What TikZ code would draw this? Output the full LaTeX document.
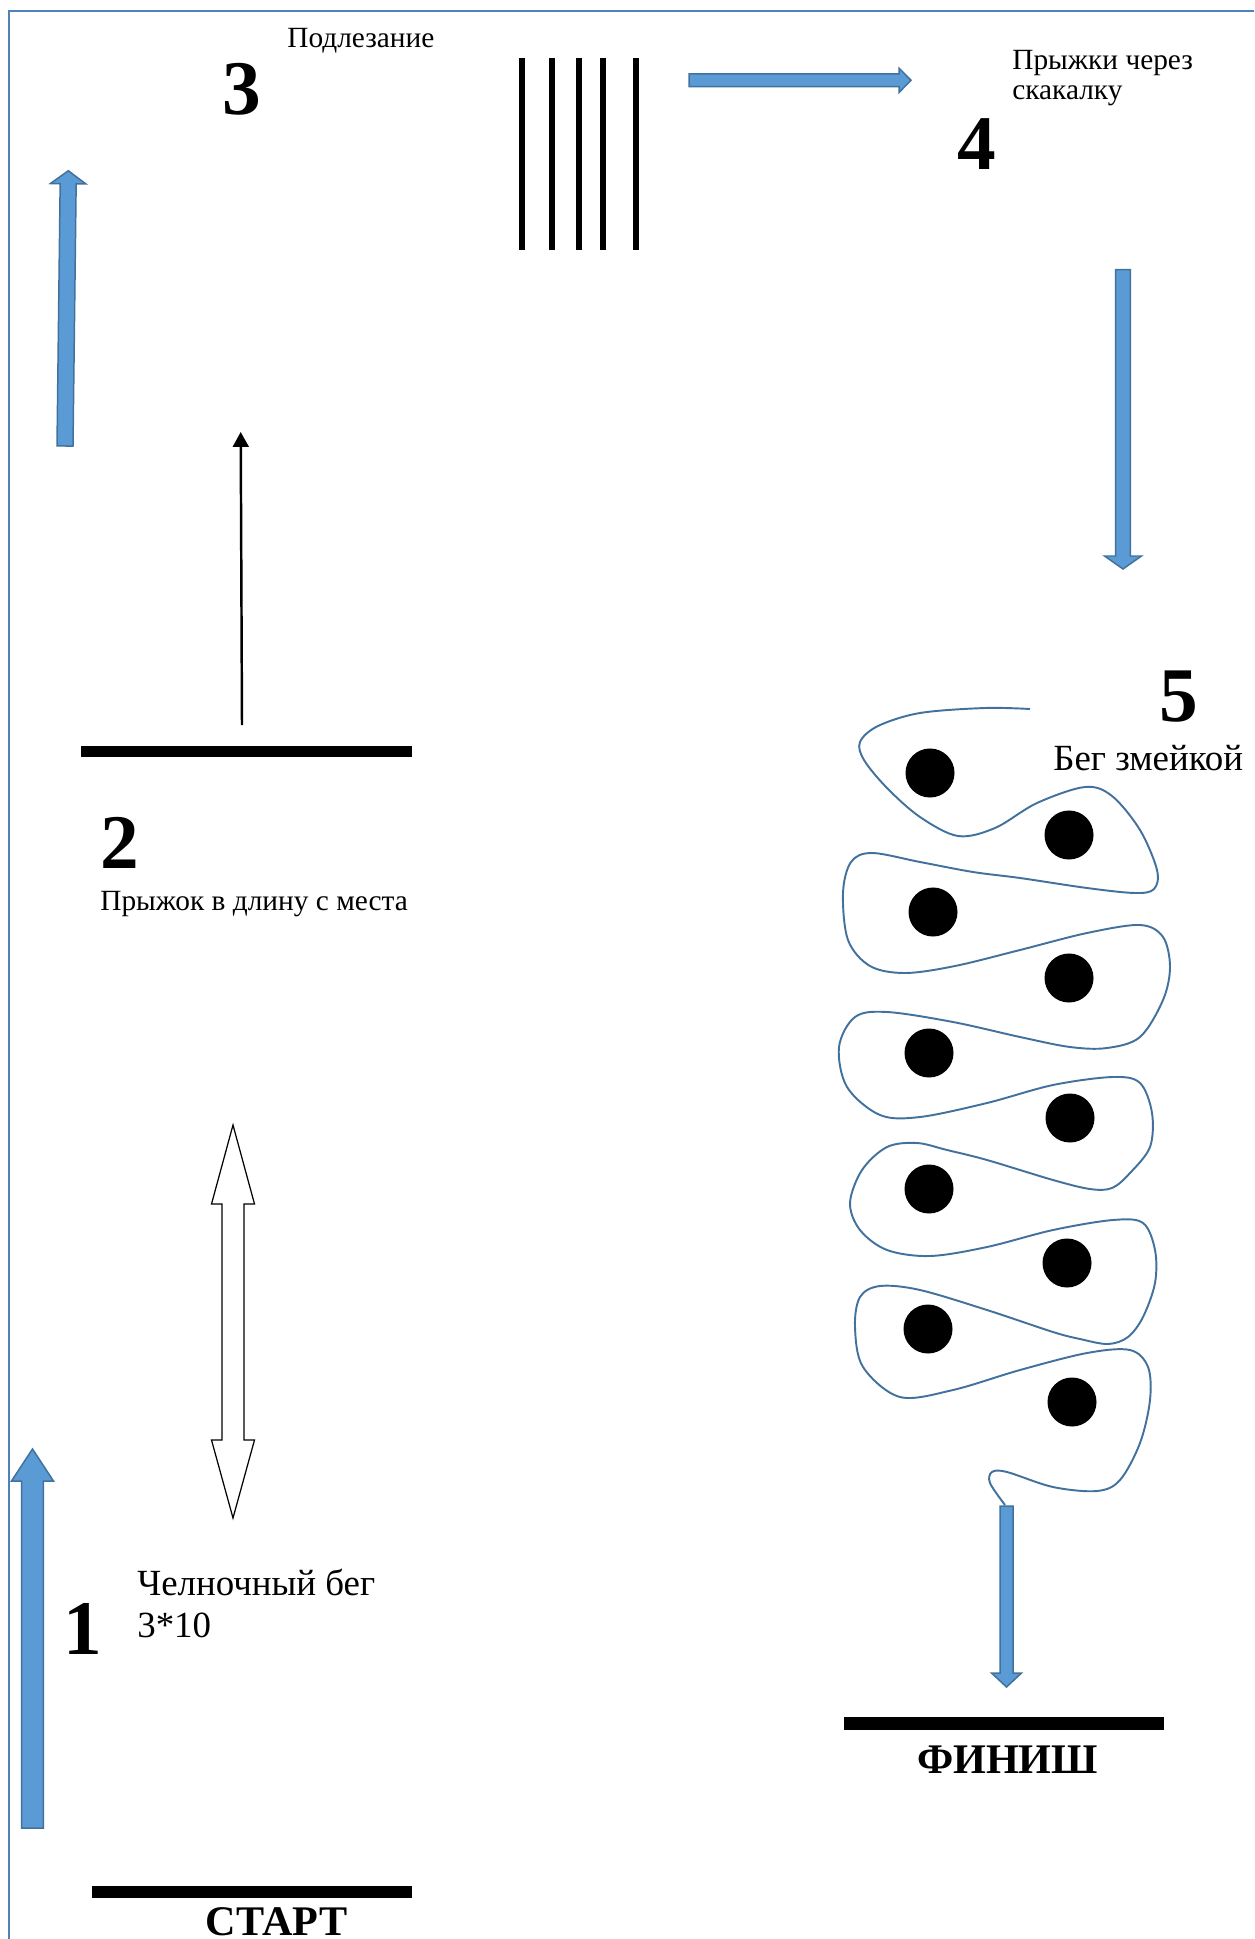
\documentclass[tikz,border=0pt]{standalone}
\usepackage{fontspec}
\setmainfont{Liberation Serif}
\usetikzlibrary{arrows.meta}

\definecolor{arrowfill}{RGB}{91,155,213}
\definecolor{arrowedge}{RGB}{65,113,156}
\definecolor{snakeblue}{RGB}{65,113,156}
\definecolor{framecol}{RGB}{79,129,189}

\tikzset{
  bluearr/.style={draw=arrowedge, fill=arrowfill, line width=0.85pt},
  pics/blockarrow/.style n args={4}{code={
    \draw[bluearr] (0,-#2) -- ({#1-#4},-#2) -- ({#1-#4},-#3) -- (#1,0)
      -- ({#1-#4},#3) -- ({#1-#4},#2) -- (0,#2) -- cycle;}},
  stationnum/.style={font=\fontsize{44}{50}\selectfont\bfseries, anchor=base west, inner sep=0pt},
  smalllabel/.style={font=\fontsize{16.7}{20}\selectfont, anchor=base west, inner sep=0pt},
  biglabel/.style={font=\fontsize{21}{25}\selectfont, anchor=base west, inner sep=0pt},
  markword/.style={font=\fontsize{24}{28}\selectfont\bfseries, anchor=base, inner sep=0pt},
  barline/.style={line width=6.8pt},
  poleline/.style={line width=3.4pt},
  snakeline/.style={draw=snakeblue, line width=1.1pt},
  cone/.style={circle, fill=black, minimum size=27.9pt, inner sep=0pt}
}

\begin{document}
\begin{tikzpicture}[x=0.02cm, y=-0.02cm]
\useasboundingbox (0,0) rectangle (1254,1939);
\clip (0,0) rectangle (1254,1939);

% frame
\draw[framecol, line width=1.5pt] (9,1950) -- (9,11) -- (1260,11);

% station 1
\pic[rotate=90] (runup) at (32.5,1828) {blockarrow={379}{10.8}{21}{32}};
\node[stationnum] (n1) at (63,1654) {1};
\node[biglabel] (shuttle) at (137,1595) {Челночный бег};
\node[biglabel] (shuttle2) at (137,1637) {3*10};
\draw[line width=0.7pt, fill=white] (233,1125) -- (254.5,1204) -- (244,1204) -- (244,1440)
  -- (254.5,1440) -- (233,1518) -- (211.5,1440) -- (222,1440) -- (222,1204) -- (211.5,1204) -- cycle;
\coordinate (s0) at (92,1892);
\coordinate (s1) at (412,1892);
\draw[barline] (s0) -- (s1);
\node[markword] (start) at (276.5,1935) {СТАРТ};

% station 2
\coordinate (b0) at (81,751.5);
\coordinate (b1) at (412,751.5);
\draw[barline, line width=6.3pt] (b0) -- (b1);
\coordinate (j0) at (242,725);
\coordinate (j1) at (240.7,432);
\draw[line width=1.4pt, -{Triangle[length=8.5pt,width=9pt]}] (j0) -- (j1);
\node[stationnum] (n2) at (100,868) {2};
\node[smalllabel] (jump) at (100,910) {Прыжок в длину с места};

% station 3
\pic[rotate=89.31] (climb) at (65,446) {blockarrow={275.3}{8}{17.7}{13}};
\node[stationnum] (n3) at (222,115) {3};
\node[smalllabel] (crawl) at (287,48) {Подлезание};
\foreach \px in {521.7,552.3,579.3,603.3,635.7}
  \draw[poleline] (\px,58) -- (\px,250);
\pic (torope) at (689,80.3) {blockarrow={222}{6.3}{12.2}{12}};

% station 4
\node[stationnum] (n4) at (957,170) {4};
\node[smalllabel] (rope) at (1012,70) {Прыжки через};
\node[smalllabel] (rope2) at (1012,100) {скакалку};
\pic[rotate=-90] (tosnake) at (1123,269.6) {blockarrow={299.4}{7.3}{18.5}{13}};

% station 5
\node[stationnum] (n5) at (1159,721) {5};
\node[biglabel] (snake) at (1053,770) {Бег змейкой};
\foreach \cx/\cy [count=\i] in {930/773,1069/835,933/912,1069/978,929/1053,
    1070/1118,929/1189,1067/1263,928/1329,1072/1402}
  \node[cone] (c\i) at (\cx,\cy) {};
\draw[snakeline] plot[smooth, tension=0.55] coordinates {
  (1030,709) (985,708) (920,713) (878,726) (860,742) (864,760) (887,788) (920,817)
  (958,836) (995,828) (1037,803) (1085,787) (1112,796) (1140,830) (1157,870) (1154,889)
  (1135,893) (1087,888) (1020,878) (973,872) (920,862) (872,853) (851,862) (843,893)
  (848,940) (870,966) (905,973) (955,966) (1020,950) (1087,933) (1140,925) (1163,937)
  (1170,967) (1163,1000) (1140,1037) (1107,1048) (1070,1047) (1020,1037) (953,1022)
  (887,1012) (855,1017) (839,1047) (847,1087) (880,1115) (920,1117) (987,1103)
  (1053,1085) (1113,1077) (1140,1083) (1152,1113) (1150,1147) (1130,1173) (1112,1188)
  (1090,1189) (1053,1180) (987,1160) (947,1150) (917,1143) (887,1147) (862,1170)
  (850,1203) (860,1230) (887,1250) (930,1256) (987,1247) (1053,1230) (1113,1220)
  (1143,1223) (1155,1250) (1155,1283) (1143,1317) (1128,1337) (1108,1344) (1080,1339)
  (1053,1332) (987,1310) (920,1290) (880,1286) (860,1297) (855,1327) (863,1367) (900,1397)
  (953,1390) (1020,1370) (1087,1353) (1130,1350) (1148,1367) (1150,1400) (1140,1443)
  (1120,1480) (1097,1491) (1053,1487) (1007,1472) (992,1472) (990,1483) (1005,1505)};
\pic[rotate=-90] (tofinish) at (1006.5,1506) {blockarrow={181}{6.5}{15}{14}};
\coordinate (f0) at (844,1723.5);
\coordinate (f1) at (1164,1723.5);
\draw[barline, line width=7.2pt] (f0) -- (f1);
\node[markword] (finish) at (1007.5,1773) {ФИНИШ};

\end{tikzpicture}
\end{document}
